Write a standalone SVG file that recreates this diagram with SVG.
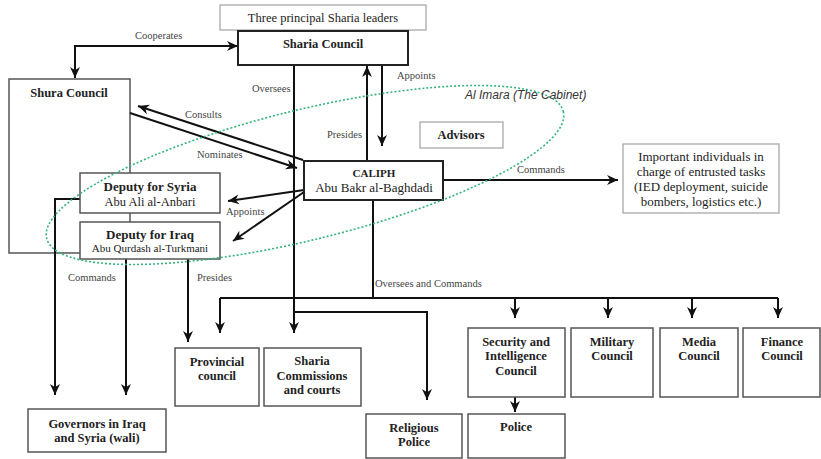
<svg xmlns="http://www.w3.org/2000/svg" width="821" height="459" viewBox="0 0 821 459">
<style>
.box{fill:#fff;stroke:#555;stroke-width:1.5}
.dark{fill:#fff;stroke:#222;stroke-width:2}
.light{fill:#fff;stroke:#a8a8a8;stroke-width:1.3}
.t{font-family:'Liberation Serif','Times New Roman','DejaVu Serif',serif;font-size:12.5px;fill:#222;text-anchor:middle}
.b{font-weight:bold}
.lbl{font-family:'Liberation Serif','Times New Roman','DejaVu Serif',serif;font-size:10.5px;fill:#444}
.c{fill:none;stroke:#111;stroke-width:2}
</style>
<defs>
<marker id="ah" viewBox="0 0 10 10" refX="10" refY="5" markerWidth="11" markerHeight="11" markerUnits="userSpaceOnUse" orient="auto-start-reverse">
<path d="M0,0.5 L10,5 L0,9.5 L3,5 z" fill="#111"/>
</marker>
</defs>

<g id="shura"><rect class="box" x="9" y="79" width="121" height="174"/><text class="t b" x="69" y="97" font-family="Liberation Serif, serif">Shura Council</text></g>

<g id="connectors" font-family="Liberation Serif, serif">
<path class="c" d="M75,78 V46 H238" marker-start="url(#ah)" marker-end="url(#ah)"/>
<path class="c" d="M294,65 V333" marker-end="url(#ah)"/>
<path class="c" d="M294,312 H427 V400" marker-end="url(#ah)"/>
<path class="c" d="M367,161 V66" marker-end="url(#ah)"/>
<path class="c" d="M382,65 V146" marker-end="url(#ah)"/>
<path class="c" d="M303,160 L138,106" marker-end="url(#ah)"/>
<path class="c" d="M130,113 L297,168" marker-end="url(#ah)"/>
<path class="c" d="M304,190 L228,201" marker-end="url(#ah)"/>
<path class="c" d="M304,192 L233,241" marker-end="url(#ah)"/>
<path class="c" d="M443,180 H618" marker-end="url(#ah)"/>
<path class="c" d="M373,200 V298 M220,298 H778"/>
<path class="c" d="M220,298 V333" marker-end="url(#ah)"/>
<path class="c" d="M515,298 V318" marker-end="url(#ah)"/>
<path class="c" d="M608,298 V318" marker-end="url(#ah)"/>
<path class="c" d="M692,298 V318" marker-end="url(#ah)"/>
<path class="c" d="M778,298 V318" marker-end="url(#ah)"/>
<path class="c" d="M80,199 H55 V395" marker-end="url(#ah)"/>
<path class="c" d="M126,259 V395" marker-end="url(#ah)"/>
<path class="c" d="M188,259 V342" marker-end="url(#ah)"/>
<path class="c" d="M515,397 V412" marker-end="url(#ah)"/>
<text class="lbl" x="135" y="39">Cooperates</text>
<text class="lbl" x="252" y="92">Oversees</text>
<text class="lbl" x="397" y="79">Appoints</text>
<text class="lbl" x="327" y="138">Presides</text>
<text class="lbl" x="185" y="118">Consults</text>
<text class="lbl" x="197" y="158">Nominates</text>
<text class="lbl" x="226" y="215">Appoints</text>
<text class="lbl" x="517" y="173">Commands</text>
<text class="lbl" x="375" y="287">Oversees and Commands</text>
<text class="lbl" x="68" y="281">Commands</text>
<text class="lbl" x="197" y="281">Presides</text>
</g>

<g id="leaders"><rect class="light" x="220" y="5" width="206" height="25"/><text class="t" x="323" y="22">Three principal Sharia leaders</text></g>
<g id="sharia-council"><rect class="dark" x="238" y="31" width="170" height="34"/><text class="t b" x="323" y="48">Sharia Council</text></g>
<g id="caliph"><rect class="dark" x="304" y="161" width="139" height="39"/><text class="t b" x="374" y="177" style="font-size:11px">CALIPH</text><text class="t" x="374" y="191.5" style="font-size:13px">Abu Bakr al-Baghdadi</text></g>
<g id="advisors"><rect class="light" x="420" y="122" width="83" height="26"/><text class="t b" x="461" y="139">Advisors</text></g>
<g id="individuals"><rect class="light" x="623" y="144" width="156" height="69"/>
<text class="t" x="701" y="161" style="font-size:13px">Important individuals in</text>
<text class="t" x="701" y="176" style="font-size:13px">charge of entrusted tasks</text>
<text class="t" x="701" y="191" style="font-size:13px">(IED deployment, suicide</text>
<text class="t" x="701" y="206" style="font-size:13px">bombers, logistics etc.)</text></g>
<g id="deputy-syria"><rect class="box" x="80" y="173" width="140" height="40"/><text class="t b" x="150" y="191" style="font-size:13px">Deputy for Syria</text><text class="t" x="150" y="206">Abu Ali  al-Anbari</text></g>
<g id="deputy-iraq"><rect class="box" x="80" y="222" width="140" height="37"/><text class="t b" x="150" y="239" style="font-size:13px">Deputy for Iraq</text><text class="t" x="150" y="252" style="font-size:11px">Abu Qurdash al-Turkmani</text></g>
<g id="governors"><rect class="box" x="28" y="409" width="138" height="43"/><text class="t b" x="97" y="428">Governors in Iraq</text><text class="t b" x="97" y="442">and Syria (wali)</text></g>
<g id="provincial"><rect class="box" x="175" y="348" width="84" height="58"/><text class="t b" x="217" y="366">Provincial</text><text class="t b" x="217" y="380">council</text></g>
<g id="sharia-commissions"><rect class="box" x="264" y="348" width="97" height="58"/><text class="t b" x="312" y="365">Sharia</text><text class="t b" x="312" y="380">Commissions</text><text class="t b" x="312" y="394">and courts</text></g>
<g id="religious-police"><rect class="box" x="366" y="414" width="96" height="44"/><text class="t b" x="414" y="432">Religious</text><text class="t b" x="414" y="446">Police</text></g>
<g id="security"><rect class="box" x="468" y="328" width="97" height="69"/><text class="t b" x="516" y="346">Security and</text><text class="t b" x="516" y="360">Intelligence</text><text class="t b" x="516" y="375">Council</text></g>
<g id="police"><rect class="box" x="468" y="414" width="97" height="44"/><text class="t b" x="516" y="431">Police</text></g>
<g id="military"><rect class="box" x="571" y="328" width="82" height="69"/><text class="t b" x="612" y="346">Military</text><text class="t b" x="612" y="360">Council</text></g>
<g id="media"><rect class="box" x="660" y="328" width="78" height="69"/><text class="t b" x="699" y="346">Media</text><text class="t b" x="699" y="360">Council</text></g>
<g id="finance"><rect class="box" x="743" y="328" width="77" height="69"/><text class="t b" x="782" y="346">Finance</text><text class="t b" x="782" y="360">Council</text></g>

<g id="al-imara">
<ellipse cx="305" cy="175" rx="266" ry="65" transform="rotate(-13.8 305 175)" fill="none" stroke="#34b27c" stroke-width="1.6" stroke-dasharray="2 2"/>
<text x="465" y="99" style="font-family:'Liberation Sans',sans-serif;font-size:12px;font-style:italic;fill:#333">Al Imara (The Cabinet)</text>
</g>
</svg>
